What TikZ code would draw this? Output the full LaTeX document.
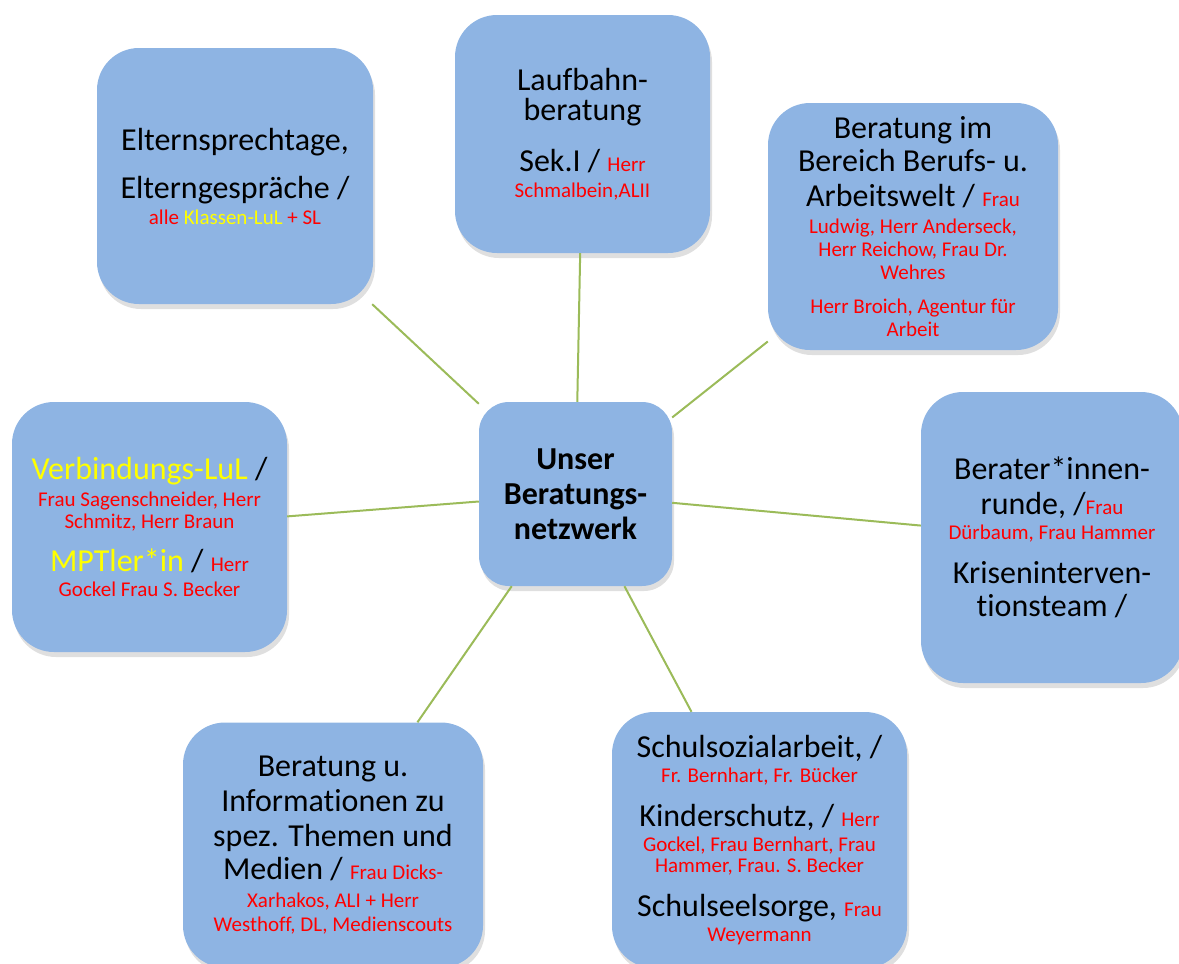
\documentclass[tikz,border=0pt]{standalone}
\usepackage{fontspec}
\setmainfont{Carlito}[Ligatures=NoCommon]
\usetikzlibrary{shadows}
\definecolor{boxblue}{HTML}{8EB4E3}
\definecolor{lnkgreen}{HTML}{9BBB59}
\definecolor{redtxt}{HTML}{FF0000}
\definecolor{yeltxt}{HTML}{FFFF00}
\newcommand\mainsz{\fontsize{32}{34}\selectfont}
\newcommand\namered[1]{{\fontsize{21}{23}\selectfont\color{redtxt}#1}}
\newcommand\hiyel[1]{{\color{yeltxt}#1}}

\begin{document}
\begin{tikzpicture}[x=1pt, y=-1pt,
  topic/.style={rectangle, rounded corners=42pt, fill=boxblue, align=center,
    inner sep=0pt, font=\mainsz,
    drop shadow={shadow xshift=2pt, shadow yshift=-5pt, opacity=0.25}},
  link/.style={draw=lnkgreen, line width=2pt},
]
\useasboundingbox (0,0) rectangle (1179,964);

% Hub
\node[topic, rounded corners=30pt, minimum width=193pt, minimum height=184pt,
  font=\mainsz\bfseries] (hub) at (575.5,494) {Unser\\[1pt]Beratungs-\\[1pt]netzwerk};

% Surrounding topics
\node[topic, minimum width=276pt, minimum height=256pt] (eltern) at (235,176)
  {Elternsprechtage,\\[14pt]
   Elterngespräche /\\[-8pt]
   \namered{alle \hiyel{Klassen-LuL} + SL}};

\node[topic, minimum width=255pt, minimum height=238pt] (laufbahn) at (582.5,134)
  {Laufbahn-\\[-4pt]
   beratung\\[17pt]
   Sek.I / \namered{Herr}\\[-8pt]
   \namered{Schmalbein,ALII}};

\node[topic, minimum width=290pt, minimum height=247pt] (arbeit) at (913,226.5)
  {Beratung im\\[-1pt]
   Bereich Berufs- u.\\[1pt]
   Arbeitswelt / \namered{Frau}\\[-7pt]
   \namered{Ludwig, Herr Anderseck,}\\[-11pt]
   \namered{Herr Reichow, Frau Dr.}\\[-11pt]
   \namered{Wehres}\\[0pt]
   \namered{Herr Broich, Agentur für}\\[-11pt]
   \namered{Arbeit}};

\node[topic, minimum width=275pt, minimum height=250pt] (verbind) at (149.5,527)
  {\hiyel{Verbindungs-LuL} /\\[-7pt]
   \namered{Frau Sagenschneider, Herr}\\[-12pt]
   \namered{Schmitz, Herr Braun}\\[9pt]
   \hiyel{MPTler*in} / \namered{Herr}\\[-9pt]
   \namered{Gockel Frau S. Becker}};

\node[topic, minimum width=262pt, minimum height=291pt] (berater) at (1052,537.5)
  {Berater*innen-\\[1pt]
   runde, /\namered{Frau}\\[-9pt]
   \namered{Dürbaum, Frau Hammer}\\[10pt]
   Kriseninterven-\\[-1pt]
   tionsteam /};

\node[topic, minimum width=300pt, minimum height=245pt] (medien) at (333,845)
  {Beratung u.\\[1pt]
   Informationen zu\\[1pt]
   spez. Themen und\\[-1pt]
   Medien / \namered{Frau Dicks-}\\[-6pt]
   \namered{Xarhakos, ALI + Herr}\\[-10pt]
   \namered{Westhoff, DL, Medienscouts}};

\node[topic, minimum width=295pt, minimum height=256pt] (schule) at (759.5,840)
  {Schulsozialarbeit, /\\[-9pt]
   \namered{Fr. Bernhart, Fr. Bücker}\\[10pt]
   Kinderschutz, / \namered{Herr}\\[-9pt]
   \namered{Gockel, Frau Bernhart, Frau}\\[-13pt]
   \namered{Hammer, Frau. S. Becker}\\[10pt]
   Schulseelsorge, \namered{Frau}\\[-9pt]
   \namered{Weyermann}};

% Links from the hub
\foreach \t in {eltern, laufbahn, arbeit, verbind, berater, medien, schule}
  \draw[link] (hub) -- (\t);

\end{tikzpicture}
\end{document}
